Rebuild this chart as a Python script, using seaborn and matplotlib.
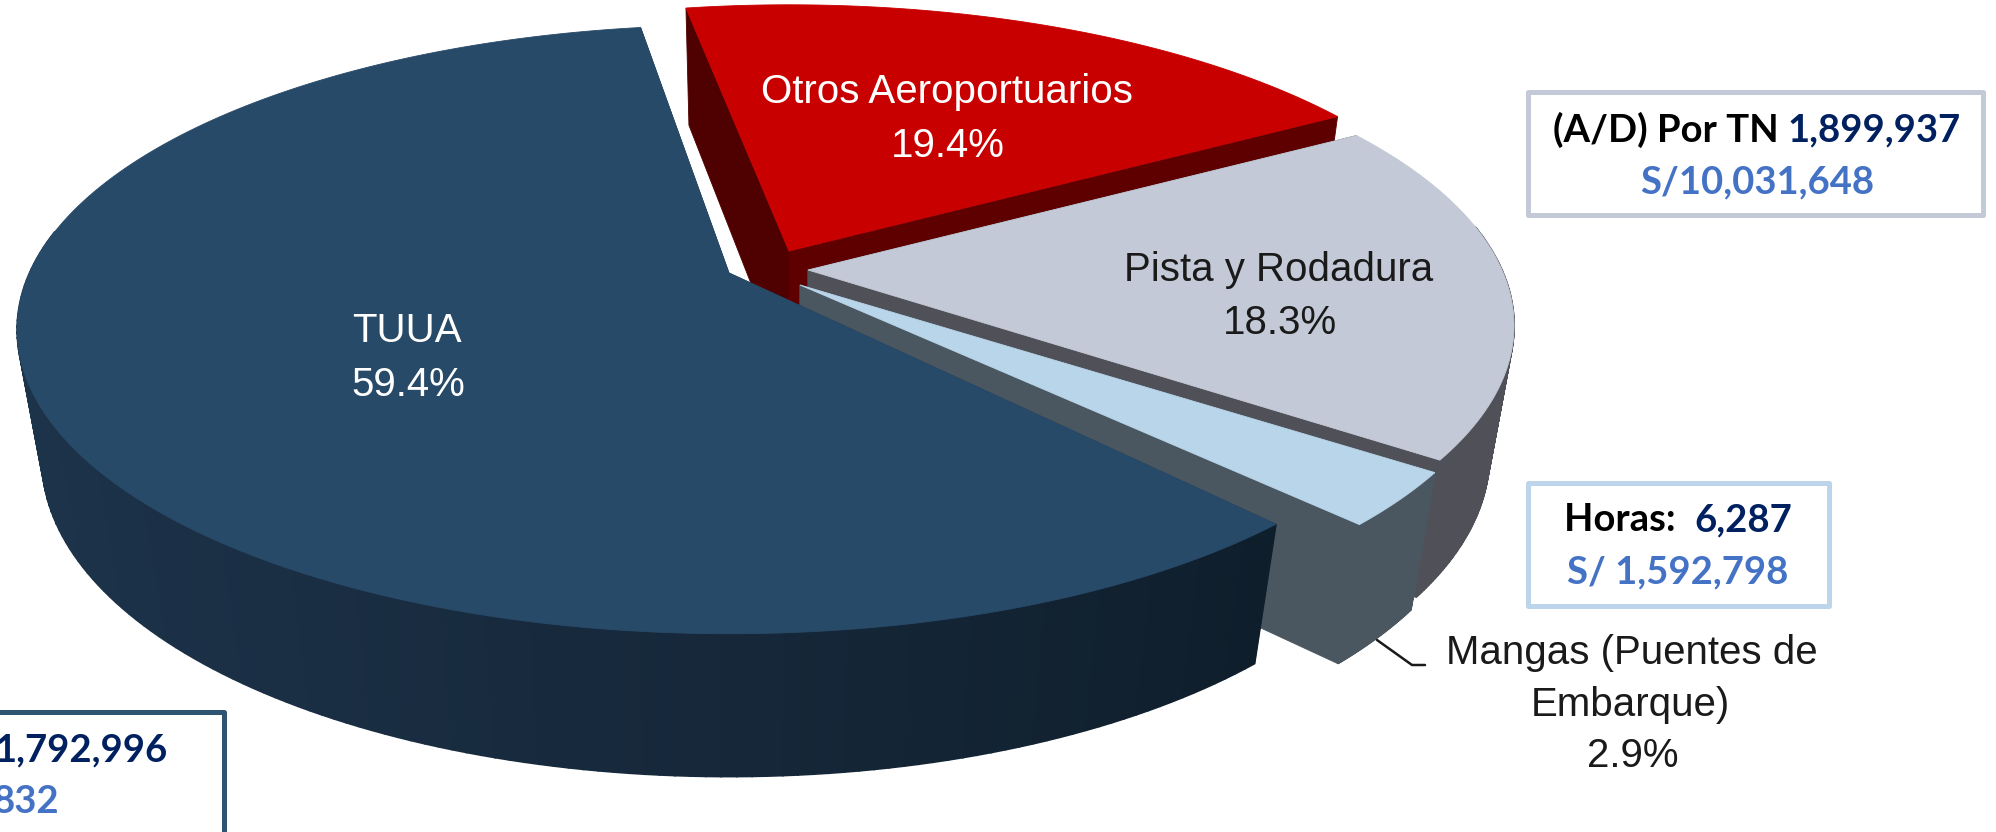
import numpy as np
import matplotlib
matplotlib.use("Agg")
import matplotlib.pyplot as plt
from matplotlib.patches import Rectangle
import seaborn as sns

# ---- data -------------------------------------------------------------
categories = ["Otros Aeroportuarios", "Pista y Rodadura", "Mangas (Puentes de\nEmbarque)", "TUUA"]
shares = [19.4, 18.3, 2.9, 59.4]
share_labels = ["19.4%", "18.3%", "2.9%", "59.4%"]

# ---- styles -----------------------------------------------------------
top_colors = ["#c80000", "#c3c9d6", "#b9d5ea", "#284a69"]
wall_colors = ["#5f0000", "#505158", "#4a5760", "#1e3750"]
left_face_colors = ["#4f0000", "#505158", "#4a5760", "#1e3750"]
outer_ramps = [["#600000", "#600000"], ["#505158", "#505158"],
               ["#4a5760", "#4a5760"], ["#24445f", "#1e3850", "#1a2e43", "#0f1e2b"]]
apexes = [(789, 251), (808, 270), (800, 285), (729, 273)]
rotations = [2.5, 2.5, 3.0, 1.0]
radii = [1.0, 1.0, 1.0, 1.008]
START_DEG = 97.6
A, B, K, M, D = 694.0, 291.5, 0.184, 0.035, 134.0

sns.set_theme(style="white")
plt.rcParams["font.family"] = ["Liberation Sans", "DejaVu Sans"]

fig = plt.figure(figsize=(19.96, 8.32), dpi=100)
ax = fig.add_axes([0, 0, 1, 1])
ax.set_xlim(0, 1996)
ax.set_ylim(832, 0)
ax.axis("off")


def project(apex, r, theta, z):
    x, y = r * np.cos(theta), r * np.sin(theta)
    w = 1 + K * y + M * z
    return apex[0] + A * x / w, apex[1] + (-B * y + D * z) / w


def face(xy, color, zo, lw=0.6):
    ax.fill(xy[0], xy[1], color=color, lw=lw, zorder=zo)


spans = np.radians(np.array(shares) * 3.6)
edge = np.radians(START_DEG)
for i, span in enumerate(spans):
    hi = edge + np.radians(rotations[i])
    lo = hi - span
    edge = edge - span
    apex = apexes[i]
    rad = radii[i]
    zo = 2 + i * 0.1
    th = np.linspace(lo, hi, 200)

    # flat cut faces
    for t, col in ((hi, left_face_colors[i]), (lo, wall_colors[i])):
        corners = [project(apex, r, t, z) for r, z in ((0, 0), (rad, 0), (rad, 1), (0, 1))]
        face(list(zip(*corners)), col, zo)

    # curved outer wall, shaded along the arc
    ramp = sns.blend_palette(outer_ramps[i], n_colors=len(th) - 1)
    for j in range(len(th) - 1):
        if np.sin(0.5 * (th[j] + th[j + 1])) > 0.15:
            continue
        pts = [project(apex, rad, th[j], 0), project(apex, rad, th[j + 1], 0),
               project(apex, rad, th[j + 1], 1), project(apex, rad, th[j], 1)]
        face(list(zip(*pts)), ramp[j], zo + 0.01, lw=1.2)

    # top surface
    px, py = project(apex, rad, th, 0)
    face((np.r_[apex[0], px], np.r_[apex[1], py]), top_colors[i], zo + 0.02)

# ---- slice labels -----------------------------------------------------
label_pos = [(947, 92, 146), (1279, 270, 323), (1632, 0, 756), (407, 331, 385)]
label_col = ["white", "#1a1a1a", "#1a1a1a", "white"]
LAB = 29
for i, cat in enumerate(categories):
    cx, y1, y2 = label_pos[i]
    if i == 2:
        ax.text(cx, 653, "Mangas (Puentes de", ha="center", va="center", fontsize=LAB, color=label_col[i], zorder=5)
        ax.text(1630, 705, "Embarque)", ha="center", va="center", fontsize=LAB, color=label_col[i], zorder=5)
    else:
        ax.text(cx, y1, cat, ha="center", va="center", fontsize=LAB, color=label_col[i], zorder=5)
    ax.text(cx + 1, y2, share_labels[i], ha="center", va="center", fontsize=LAB, color=label_col[i], zorder=5)

ax.plot([1377, 1412, 1425], [640, 665, 665], color="#1a1a1a", lw=1.8, zorder=5)

# ---- callout boxes ----------------------------------------------------
NAVY, BLUE, BLACK = "#002060", "#4472c4", "#000000"
BOXF = 27.5
renderer = fig.canvas.get_renderer()


def runs(cx, y, parts):
    texts = [ax.text(0, y, s, color=c, fontsize=BOXF, fontweight="bold", family="Lato",
                     ha="left", va="center", zorder=6) for s, c in parts]
    widths = [t.get_window_extent(renderer).width for t in texts]
    x = cx - sum(widths) / 2
    for t, w in zip(texts, widths):
        t.set_x(x)
        x += w


def box(x0, y0, x1, y1, color):
    ax.add_patch(Rectangle((x0, y0), x1 - x0, y1 - y0, fill=False, ec=color, lw=3.6,
                           joinstyle="round", zorder=6))


box(1528, 92, 1983, 215, "#c3c9d6")
runs(1757, 130, [("(A/D) Por TN ", BLACK), ("1,899,937", NAVY)])
runs(1757, 182, [("S/10,031,648", BLUE)])

box(1528, 483, 1829, 606, "#bcd5ea")
runs(1678, 520, [("Horas:  ", BLACK), ("6,287", NAVY)])
runs(1678, 572, [("S/ 1,592,798", BLUE)])

box(-20, 712, 224, 860, "#2f5372")
ax.text(168, 750, "1,792,996", color=NAVY, fontsize=BOXF, fontweight="bold", family="Lato", ha="right", va="center", zorder=6)
ax.text(59, 802, "832", color=BLUE, fontsize=BOXF, fontweight="bold", family="Lato", ha="right", va="center", zorder=6)

fig.savefig("out.png", dpi=100, facecolor="white")
